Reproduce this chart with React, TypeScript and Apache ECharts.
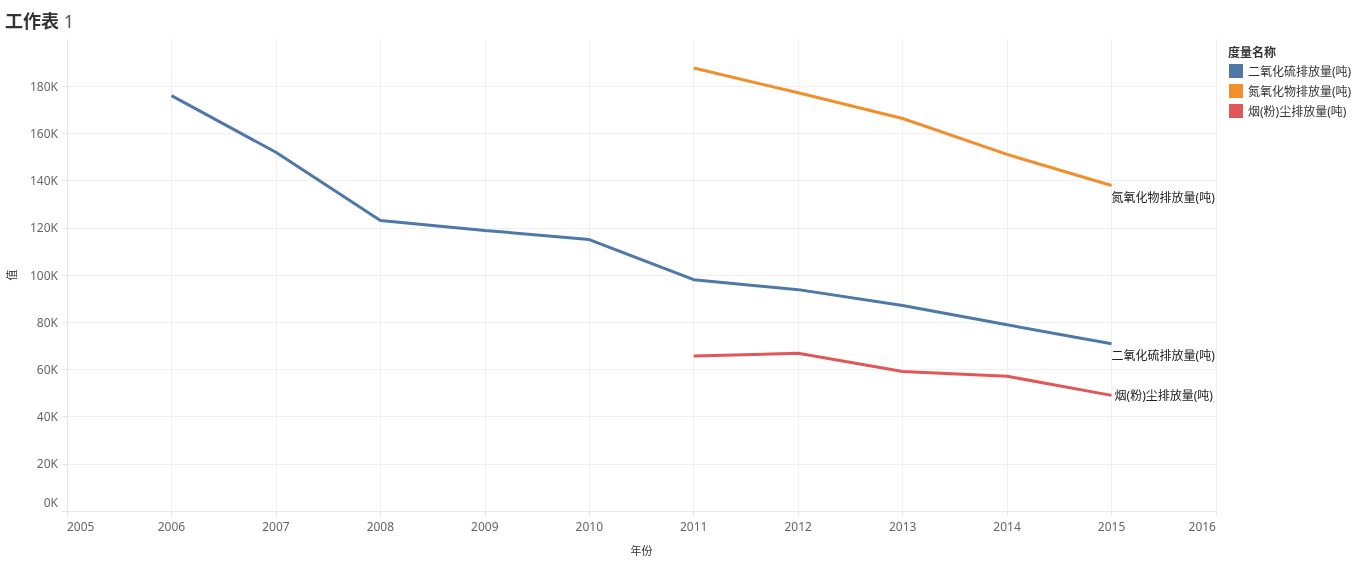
import React, { useEffect, useRef } from "react";
import * as echarts from "echarts";

const seriesNames = ["二氧化硫排放量(吨)", "氮氧化物排放量(吨)", "烟(粉)尘排放量(吨)"];
const colors = ["#4e79a7", "#f28e2b", "#e15759"];
const so2Years = [2006, 2007, 2008, 2009, 2010, 2011, 2012, 2013, 2014, 2015];
const so2Values = [176000, 152000, 123100, 118900, 115000, 98000, 93800, 87100, 78900, 70900];
const noxYears = [2011, 2012, 2013, 2014, 2015];
const noxValues = [187700, 177200, 166300, 151100, 137900];
const dustYears = [2011, 2012, 2013, 2014, 2015];
const dustValues = [65700, 66800, 59100, 57100, 49000];

const FONT = '"Noto Sans", "Noto Sans CJK SC", sans-serif';

function pairs(xs: number[], ys: number[]) {
  return xs.map((x, i) => [x, ys[i]]);
}

export default function App() {
  const ref = useRef<HTMLDivElement>(null);
  useEffect(() => {
    if (!ref.current) return;
    const chart = echarts.init(ref.current, null, { renderer: "svg" });
    const endOffsets = [
      [0, 12],
      [0, 12],
      [3, 0],
    ];
    const datas = [pairs(so2Years, so2Values), pairs(noxYears, noxValues), pairs(dustYears, dustValues)];
    chart.setOption({
      animation: false,
      textStyle: { fontFamily: FONT },
      title: [
        {
          text: "{a|工作表} {b|1}",
          left: 0,
          top: 7,
          textStyle: {
            fontFamily: FONT,
            rich: {
              a: { fontSize: 18, fontWeight: "bold", color: "#333", fontFamily: FONT },
              b: { fontSize: 18, fontWeight: "normal", color: "#555", fontFamily: FONT },
            },
          },
        },
        {
          text: "度量名称",
          left: 1223,
          top: 41,
          textStyle: { fontSize: 12, fontWeight: "bold", color: "#333", fontFamily: FONT },
        },
      ],
      legend: {
        orient: "vertical",
        left: 1229,
        top: 64,
        padding: 0,
        itemWidth: 14,
        itemHeight: 14,
        itemGap: 6,
        icon: "rect",
        textStyle: { fontSize: 12, color: "#333", fontFamily: FONT },
        data: seriesNames,
      },
      grid: { left: 67, right: 150, top: 39, bottom: 55, outerBoundsMode: "none" },
      xAxis: {
        type: "value",
        min: 2005,
        max: 2016,
        interval: 1,
        name: "年份",
        nameLocation: "middle",
        nameGap: 34,
        nameTextStyle: { color: "#333", fontSize: 11, fontFamily: FONT },
        axisLine: { show: true, lineStyle: { color: "#e6e6e6" } },
        axisTick: { show: true, length: 5, lineStyle: { color: "#e6e6e6" } },
        splitLine: { show: true, lineStyle: { color: "#f0f0f0" } },
        axisLabel: {
          color: "#666",
          fontSize: 12,
          margin: 9,
          fontFamily: FONT,
          formatter: (v: number) => String(v),
          alignMinLabel: "left",
          alignMaxLabel: "right",
        },
      },
      yAxis: {
        type: "value",
        min: 0,
        max: 200000,
        interval: 20000,
        name: "值",
        nameLocation: "middle",
        nameGap: 50,
        nameRotate: 90,
        nameTextStyle: { color: "#333", fontSize: 11, fontFamily: FONT },
        axisLine: { show: true, lineStyle: { color: "#e6e6e6" } },
        axisTick: { show: true, length: 5, lineStyle: { color: "#e6e6e6" } },
        splitLine: { show: true, showMaxLine: false, lineStyle: { color: "#f0f0f0" } },
        axisLabel: {
          color: "#666",
          fontSize: 12,
          margin: 9,
          showMaxLabel: false,
          fontFamily: FONT,
          formatter: (v: number) => (v === 0 ? "{z|0K}" : v / 1000 + "K"),
          rich: { z: { padding: [0, 0, 18, 0], color: "#666", fontSize: 12, fontFamily: FONT } },
        },
      },
      series: seriesNames.map((name, i) => ({
        name,
        type: "line",
        data: datas[i],
        showSymbol: false,
        symbol: "none",
        color: colors[i],
        lineStyle: { width: 3, color: colors[i] },
        endLabel: {
          show: true,
          formatter: name,
          distance: 0,
          offset: endOffsets[i],
          color: "#222",
          fontSize: 12,
          fontFamily: FONT,
        },
      })),
    });
    return () => chart.dispose();
  }, []);
  return <div ref={ref} style={{ position: "fixed", left: 0, top: 0, width: 1366, height: 566 }} />;
}
